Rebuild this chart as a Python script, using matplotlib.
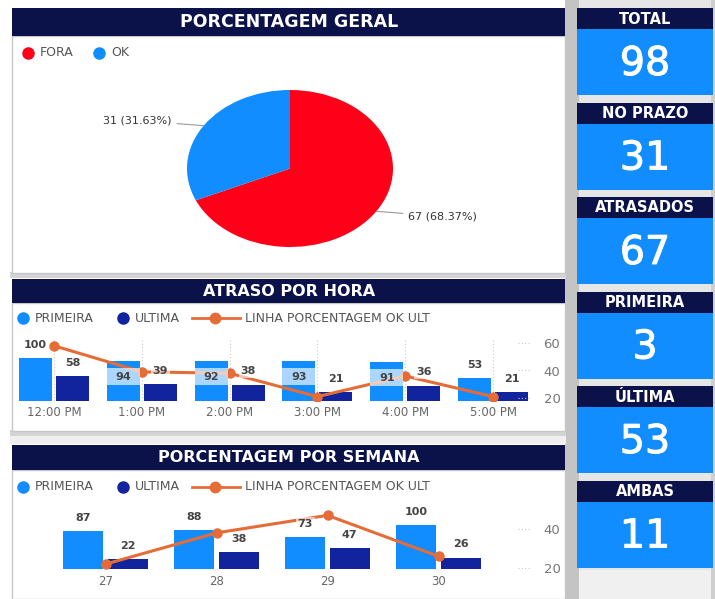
import numpy as np
import matplotlib
matplotlib.use("Agg")
import matplotlib.pyplot as plt
import matplotlib.patheffects as pe
from matplotlib.patches import Rectangle

W, H = 715, 599

pie_labels = ["FORA", "OK"]
pie_values = [67, 31]

hours = ["12:00 PM", "1:00 PM", "2:00 PM", "3:00 PM", "4:00 PM", "5:00 PM"]
hour_primeira = [100, 94, 92, 93, 91, 53]
hour_ultima = [58, 39, 38, 21, 36, 21]
hour_linha = [58, 39, 38, 21, 36, 21]

weeks = ["27", "28", "29", "30"]
week_primeira = [87, 88, 73, 100]
week_ultima = [22, 38, 47, 26]
week_linha = [22, 38, 47, 26]

kpi_names = ["TOTAL", "NO PRAZO", "ATRASADOS", "PRIMEIRA", "ÚLTIMA", "AMBAS"]
kpi_values = [98, 31, 67, 3, 53, 11]

NAVY = "#0b124a"
LBLUE = "#118dff"
DBLUE = "#12239e"
RED = "#ff0019"
ORANGE = "#e66c37"
LABEL = "#444444"

plt.rcParams["font.family"] = ["DejaVu Sans"]

fig = plt.figure(figsize=(W / 100, H / 100), dpi=100)


def px_axes(x0, y0, x1, y1):
    return fig.add_axes([x0 / W, 1 - y1 / H, (x1 - x0) / W, (y1 - y0) / H])


# background, panels, title bars
bg = px_axes(0, 0, W, H)
bg.set_xlim(0, W)
bg.set_ylim(H, 0)
bg.axis("off")


def rect(x0, y0, x1, y1, **kw):
    bg.add_patch(Rectangle((x0, y0), x1 - x0, y1 - y0, **kw))


rect(565, 0, 579, H, color="#c4c4c4", lw=0)
rect(579, 0, W, H, color="#e6e6e6", lw=0)
rect(579, 570, W, H, color="#f0f0f0", lw=0)
rect(711, 0, W, H, color="#cfcfcf", lw=0)
rect(10, 272, 566, 278, color="#d4d4d4", lw=0)
rect(10, 430, 566, 436, color="#d4d4d4", lw=0)
rect(10, 436, 566, 444, color="#efefef", lw=0)

panels = [(8, 36, 273, "PORCENTAGEM GERAL", 12.5),
          (279, 303, 431, "ATRASO POR HORA", 11.5),
          (445, 470, 599, "PORCENTAGEM POR SEMANA", 11.5)]
for top, body, bottom, title, fs in panels:
    rect(12, body, 565, bottom, facecolor="white", edgecolor="#c8c8c8", lw=1)
    rect(12, top, 565, body, color=NAVY, lw=0)
    bg.text(289, (top + body) / 2, title, ha="center", va="center",
            color="white", fontsize=fs, fontweight="bold")

# KPI cards
for i, (name, val) in enumerate(zip(kpi_names, kpi_values)):
    t = 8 + i * 94.5
    rect(577, t, 713, t + 21, color=NAVY, lw=0)
    rect(577, t + 21, 713, t + 87, color=LBLUE, lw=0)
    bg.text(645, t + 11, name, ha="center", va="center", color="white",
            fontsize=10.5, fontweight="bold")
    bg.text(645, t + 56, str(val), ha="center", va="center", color="white",
            fontsize=28.5,
            path_effects=[pe.withStroke(linewidth=0.7, foreground="white")])


def legend_item(x, y, color, text, line=False):
    if line:
        bg.plot([x - 23, x + 25], [y, y], color=color, lw=2)
        bg.plot(x, y, "o", color=color, ms=7.5)
        tx = x + 30
    else:
        bg.plot(x, y, "o", color=color, ms=8)
        tx = x + 12
    bg.text(tx, y, text, ha="left", va="center", color="#555555", fontsize=9)


# pie
legend_item(28, 53, RED, pie_labels[0])
legend_item(99, 53, LBLUE, pie_labels[1])

pax = px_axes(187, 90, 393, 247)
wedges, _ = pax.pie(pie_values, colors=[RED, LBLUE], startangle=90,
                    counterclock=False, wedgeprops=dict(linewidth=0))
pax.set_aspect("auto")
pax.set_xlim(-1, 1)
pax.set_ylim(-1, 1)
total = sum(pie_values)
for w, v in zip(wedges, pie_values):
    ang = np.deg2rad((w.theta1 + w.theta2) / 2)
    cx, cy = np.cos(ang), np.sin(ang)
    side = 1 if cx > 0 else -1
    pax.annotate(f"{v} ({v / total * 100:.2f}%)", xy=(cx, cy),
                 xytext=(side * 1.15, cy * 1.12),
                 ha="left" if side > 0 else "right", va="center",
                 fontsize=8, color="#333333", annotation_clip=False,
                 arrowprops=dict(arrowstyle="-", color="#9a9a9a", lw=0.8,
                                 shrinkA=2, shrinkB=0))


def combo(top, bottom, cats, prim, ult, linha, first_px, pitch_px, width, off,
          bar_scale, px20, line_scale, ticks, inside=(), vgrid=False, xpad=4):
    ax = px_axes(12, top, 538, bottom)
    ax.patch.set_visible(False)
    x = np.arange(len(cats))
    ax.set_xlim((12 - first_px) / pitch_px, (538 - first_px) / pitch_px)
    ax.set_ylim(0, (bottom - top) / bar_scale)
    ax.bar(x - off, prim, width, color=LBLUE, zorder=2)
    ax.bar(x + off, ult, width, color=DBLUE, zorder=2)
    ax.set_xticks(x, cats)
    ax.set_yticks([])
    ax.tick_params(axis="x", length=0, pad=xpad, labelsize=8.5,
                   labelcolor="#666666")
    if vgrid:
        ax.grid(axis="x", ls=(0, (1, 2)), color="#c8c8c8", lw=0.8)
        ax.set_axisbelow(True)
    for s in ax.spines.values():
        s.set_visible(False)

    ax2 = ax.twinx()
    ax2.plot(x, linha, color=ORANGE, lw=2.2, marker="o", ms=6.5, zorder=3)
    for t in ticks:
        ax2.plot([0.962, 0.985], [t, t], transform=ax2.get_yaxis_transform(),
                 ls=(0, (1, 2)), color="#c8c8c8", lw=0.8)
    ax2.set_ylim(20 - (bottom - px20) / line_scale,
                 20 + (px20 - top) / line_scale)
    ax2.set_yticks(ticks)
    ax2.tick_params(axis="y", length=0, pad=4, labelsize=9.5,
                    labelcolor="#777777")
    for s in ax2.spines.values():
        s.set_visible(False)

    # data labels drawn above the line
    box = dict(boxstyle="square,pad=0.15", facecolor="white", alpha=0.6, lw=0)
    for i, v in enumerate(prim):
        if i in inside:
            ax2.add_patch(Rectangle((i - off - width / 2, v - 24 / bar_scale),
                                    width, 17 / bar_scale,
                                    transform=ax.transData, facecolor="white",
                                    alpha=0.65, lw=0, zorder=4))
            ax2.text(i - off, v - 16 / bar_scale, str(v), transform=ax.transData,
                     ha="center", va="center", fontsize=8, fontweight="bold",
                     color=LABEL, zorder=5)
        else:
            ax2.annotate(str(v), (i - off, v), xycoords=ax.transData,
                         xytext=(0, 9.5), textcoords="offset points",
                         ha="center", va="center", fontsize=8,
                         fontweight="bold", color=LABEL, bbox=box, zorder=5)
    for i, v in enumerate(ult):
        ax2.annotate(str(v), (i + off, v), xycoords=ax.transData,
                     xytext=(0, 9.5), textcoords="offset points",
                     ha="center", va="center", fontsize=8,
                     fontweight="bold", color=LABEL, bbox=box, zorder=5)
    return ax, ax2


# ATRASO POR HORA
legend_item(23, 318, LBLUE, "PRIMEIRA")
legend_item(123, 318, DBLUE, "ULTIMA")
legend_item(215, 318, ORANGE, "LINHA PORCENTAGEM OK ULT", line=True)
combo(340, 401, hours, hour_primeira, hour_ultima, hour_linha,
      first_px=54, pitch_px=87.8, width=0.375, off=0.21,
      bar_scale=0.43, px20=398, line_scale=1.375, ticks=[20, 40, 60],
      inside=(1, 2, 3, 4), vgrid=True, xpad=3.5)

# PORCENTAGEM POR SEMANA
legend_item(23, 487, LBLUE, "PRIMEIRA")
legend_item(123, 487, DBLUE, "ULTIMA")
legend_item(215, 487, ORANGE, "LINHA PORCENTAGEM OK ULT", line=True)
combo(505, 569, weeks, week_primeira, week_ultima, week_linha,
      first_px=105.5, pitch_px=111, width=0.36, off=0.2,
      bar_scale=0.44, px20=568, line_scale=1.95, ticks=[20, 40], xpad=4)

fig.savefig("out.png", dpi=100)
